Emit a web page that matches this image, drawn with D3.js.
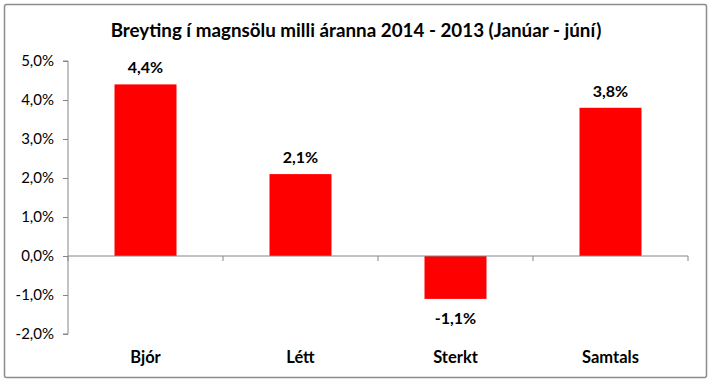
<!DOCTYPE html>
<html><head><meta charset="utf-8">
<script src="https://cdn.jsdelivr.net/npm/d3@7"></script>
<style>body{margin:0;background:#fff}svg{display:block}text{font-family:Lato,"Open Sans",sans-serif}</style>
</head><body>
<svg id="c" width="711" height="382"></svg>
<script>
const title = "Breyting í magnsölu milli áranna 2014 - 2013 (Janúar - júní)";
const categories = ["Bjór", "Létt", "Sterkt", "Samtals"];
const values = [4.4, 2.1, -1.1, 3.8];
const yTicks = [-2, -1, 0, 1, 2, 3, 4, 5];

const svg = d3.select("#c");
const fmt = v => (v < 0 ? "-" : "") + Math.abs(v).toFixed(1).replace(".", ",") + "%";

svg.append("rect").attr("x", 4.5).attr("y", 4.5).attr("width", 702).attr("height", 373)
  .attr("fill", "#fff").attr("stroke", "#8c8c8c").attr("stroke-width", 1.5).attr("rx", 2);

svg.append("text").attr("x", 356).attr("y", 37).attr("text-anchor", "middle")
  .attr("font-size", 18.8).attr("font-weight", "bold").attr("fill", "#000").text(title);

const x = d3.scaleBand().domain(categories).range([68, 688]).paddingInner(0.6).paddingOuter(0.3);
const y = d3.scaleLinear().domain([-2, 5]).range([334, 61]);

// y axis
const ya = svg.append("g").attr("transform", "translate(68,0)")
  .call(d3.axisLeft(y).tickValues(yTicks).tickSize(5).tickPadding(9).tickFormat(fmt));
ya.select(".domain").attr("stroke", "#868686").attr("d", `M-5,${y(5)}H0V${y(-2)}H-5`);
ya.selectAll(".tick line").attr("stroke", "#868686");
ya.selectAll(".tick text").attr("font-size", 15).attr("fill", "#000").attr("font-family", "Lato");

// bars
svg.selectAll(".bar").data(values).join("rect")
  .attr("x", (d, i) => x(categories[i]))
  .attr("width", x.bandwidth())
  .attr("y", d => y(Math.max(0, d)))
  .attr("height", d => Math.abs(y(d) - y(0)))
  .attr("fill", "#ff0000");

// x axis at zero
const step = x.step();
const xa = svg.append("g").attr("transform", `translate(0,${y(0)})`);
xa.append("line").attr("x1", 68).attr("x2", 688).attr("stroke", "#868686");
const bounds = d3.range(categories.length + 1).map(i => 68 + i * step);
xa.selectAll(".xt").data(bounds).join("line")
  .attr("x1", d => d).attr("x2", d => d).attr("y1", 0).attr("y2", 5).attr("stroke", "#868686");

// category labels
svg.selectAll(".cat").data(categories).join("text")
  .attr("x", d => x(d) + x.bandwidth() / 2).attr("y", 363)
  .attr("text-anchor", "middle").attr("font-size", 16.5).attr("font-weight", "bold").text(d => d);

// data labels
svg.selectAll(".lbl").data(values).join("text")
  .attr("x", (d, i) => x(categories[i]) + x.bandwidth() / 2)
  .attr("y", d => d >= 0 ? y(d) - 11 : y(d) + 25)
  .attr("text-anchor", "middle").attr("font-size", 16).attr("font-weight", "bold").text(d => fmt(d));
</script>
</body></html>
